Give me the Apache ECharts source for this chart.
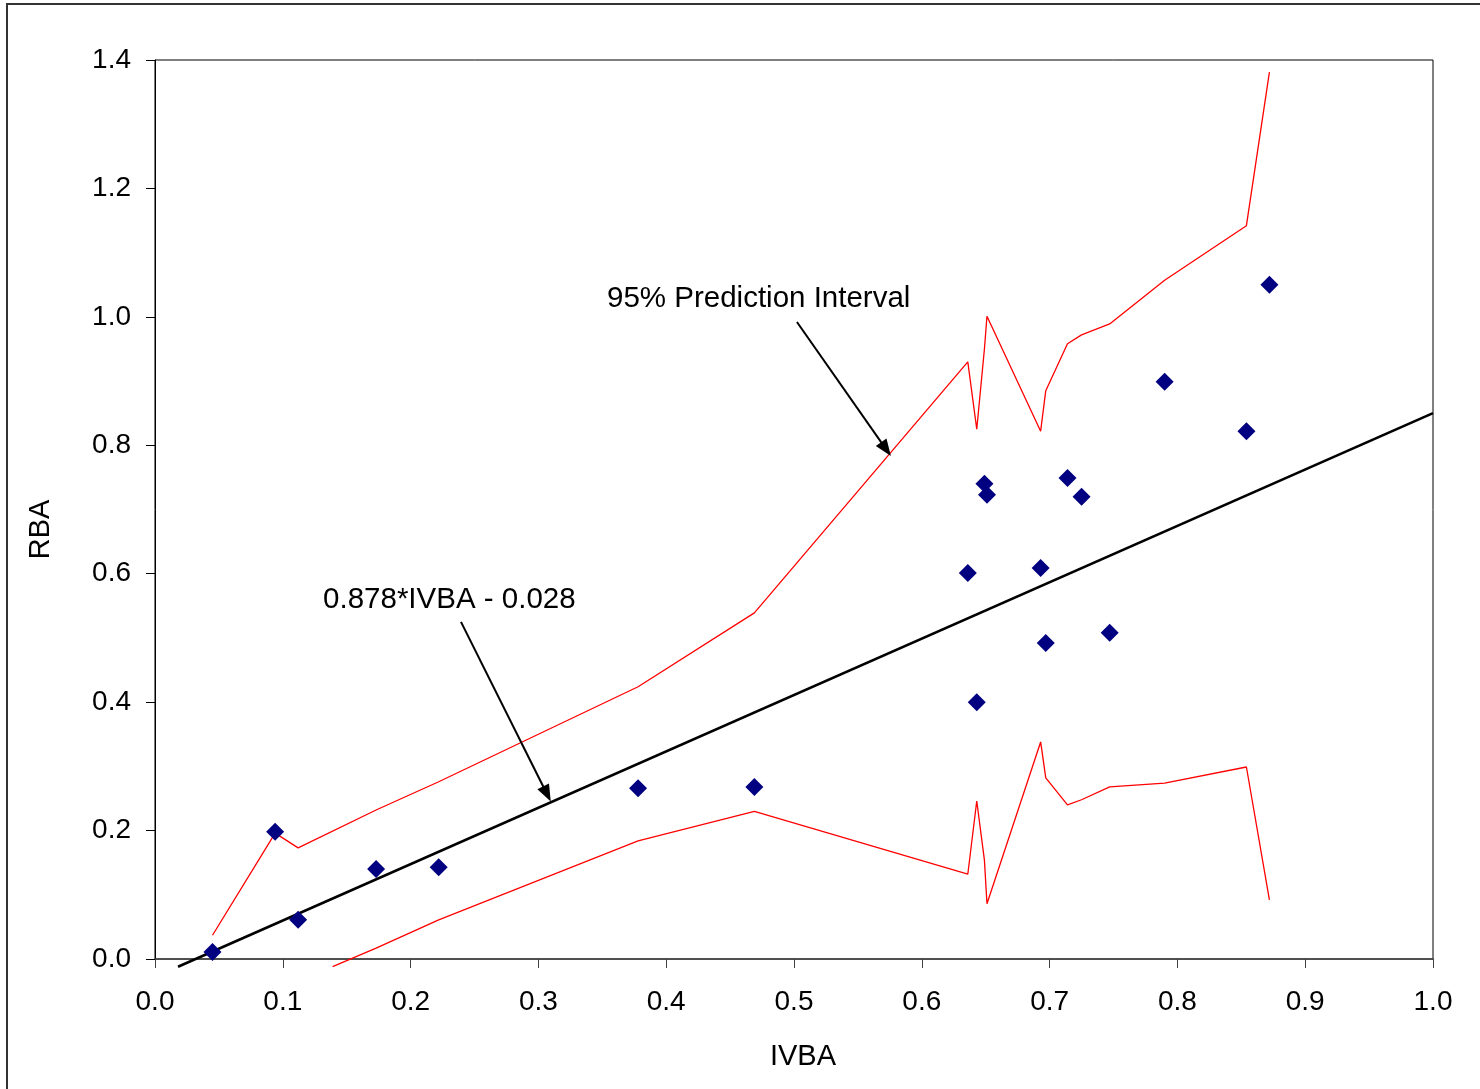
<!DOCTYPE html>
<html>
<head>
<meta charset="utf-8">
<script src="https://cdn.jsdelivr.net/npm/echarts@6/dist/echarts.min.js"></script>
<style>
html,body{margin:0;padding:0;background:#fff;}
#c{width:1480px;height:1089px;}
</style>
</head>
<body>
<div id="c"></div>
<script>
const ivba = [0.045, 0.094, 0.112, 0.173, 0.222, 0.378, 0.469, 0.636, 0.643, 0.649, 0.651, 0.693, 0.697, 0.714, 0.725, 0.747, 0.790, 0.854, 0.872];
const rba  = [0.011, 0.198, 0.061, 0.140, 0.143, 0.266, 0.268, 0.601, 0.400, 0.740, 0.723, 0.609, 0.492, 0.749, 0.720, 0.508, 0.899, 0.822, 1.050];

// Upper 95% prediction limit (at the same IVBA values)
const upperX = [0.045, 0.094, 0.112, 0.173, 0.222, 0.378, 0.469, 0.636, 0.643, 0.649, 0.651, 0.693, 0.697, 0.714, 0.725, 0.747, 0.790, 0.854, 0.872];
const upperY = [0.037, 0.196, 0.173, 0.232, 0.276, 0.424, 0.539, 0.930, 0.825, 0.950, 1.001, 0.822, 0.885, 0.958, 0.972, 0.989, 1.057, 1.142, 1.381];

// Lower 95% prediction limit (visible part, starting where it emerges below the x axis)
const lowerX = [0.139, 0.173, 0.222, 0.378, 0.469, 0.636, 0.643, 0.649, 0.651, 0.693, 0.697, 0.714, 0.725, 0.747, 0.790, 0.854, 0.872];
const lowerY = [-0.012, 0.017, 0.061, 0.184, 0.230, 0.132, 0.246, 0.154, 0.086, 0.338, 0.282, 0.240, 0.248, 0.268, 0.274, 0.299, 0.092];

// Fitted line end points: 0.878*IVBA - 0.028
const fitX = [0.018, 1.0];
const fitY = [-0.012, 0.850];

// Axis ticks
const xTicks = [0.0, 0.1, 0.2, 0.3, 0.4, 0.5, 0.6, 0.7, 0.8, 0.9, 1.0];
const yTicks = [0.0, 0.2, 0.4, 0.6, 0.8, 1.0, 1.2, 1.4];

// Annotations: [text, textAnchorX, textAnchorY, arrowStartX, arrowStartY, arrowEndX, arrowEndY]
const annPI  = ['95% Prediction Interval', 0.3537, 1.028, 0.5023, 0.992, 0.572, 0.794];
const annFit = ['0.878*IVBA - 0.028',      0.1315, 0.560, 0.2394, 0.525, 0.3067, 0.257];

const FONT = "'Liberation Sans', Arial, sans-serif";
const zip = (a, b) => a.map((v, i) => [v, b[i]]);

const chart = echarts.init(document.getElementById('c'), null, {renderer: 'canvas'});

const arrowLine = (a) => [{coord: [a[3], a[4]]}, {coord: [a[5], a[6]]}];

chart.setOption({
  backgroundColor: '#ffffff',
  animation: false,
  grid: {left: 155, top: 60, right: 47, bottom: 130, show: true, borderColor: '#000', borderWidth: 1, backgroundColor: 'transparent'},
  xAxis: {
    type: 'value', min: xTicks[0], max: xTicks[xTicks.length - 1], interval: 0.1,
    name: 'IVBA', nameLocation: 'middle', nameGap: 83,
    nameTextStyle: {fontFamily: FONT, fontSize: 29, color: '#000', padding: [0, 0, 0, 18]},
    axisLine: {onZero: false, lineStyle: {color: '#404040', width: 1.5}},
    axisTick: {show: true, length: 9, inside: false, lineStyle: {color: '#404040', width: 1}},
    axisLabel: {fontFamily: FONT, fontSize: 28, color: '#000', margin: 29, formatter: v => v.toFixed(1)},
    splitLine: {show: false}
  },
  yAxis: {
    type: 'value', min: yTicks[0], max: yTicks[yTicks.length - 1], interval: 0.2,
    name: 'RBA', nameLocation: 'middle', nameGap: 100, nameRotate: 90,
    nameTextStyle: {fontFamily: FONT, fontSize: 29, color: '#000', padding: [0, 40, 0, 0]},
    axisLine: {onZero: false, lineStyle: {color: '#000', width: 1}},
    axisTick: {show: true, length: 9, inside: false, lineStyle: {color: '#000', width: 1}},
    axisLabel: {fontFamily: FONT, fontSize: 28, color: '#000', margin: 24, formatter: v => v.toFixed(1)},
    splitLine: {show: false}
  },
  series: [
    {
      name: 'Upper PI', type: 'line', data: zip(upperX, upperY), showSymbol: false, symbol: 'none',
      lineStyle: {color: '#ff0000', width: 1.3}, clip: false, z: 2
    },
    {
      name: 'Lower PI', type: 'line', data: zip(lowerX, lowerY), showSymbol: false, symbol: 'none',
      lineStyle: {color: '#ff0000', width: 1.3}, clip: false, z: 2
    },
    {
      name: 'Fit', type: 'line', data: zip(fitX, fitY), showSymbol: false, symbol: 'none',
      lineStyle: {color: '#000', width: 2.6}, clip: false, z: 3,
      markLine: {
        silent: true, animation: false,
        symbol: ['none', 'triangle'], symbolSize: [13, 17],
        label: {show: false},
        lineStyle: {color: '#000', width: 2, type: 'solid'},
        data: [arrowLine(annPI), arrowLine(annFit)]
      }
    },
    {
      name: 'Data', type: 'scatter', data: zip(ivba, rba), symbol: 'diamond', symbolSize: 18,
      itemStyle: {color: '#000080', opacity: 1}, z: 5
    }
  ]
});

// Text annotations and outer frame
const p1 = chart.convertToPixel({gridIndex: 0}, [annPI[1], annPI[2]]);
const p2 = chart.convertToPixel({gridIndex: 0}, [annFit[1], annFit[2]]);
chart.setOption({
  graphic: [
    {type: 'rect', shape: {x: 7, y: 4, width: 1500, height: 1110}, style: {fill: 'none', stroke: '#333', lineWidth: 2}, silent: true, z: 0},
    {type: 'text', x: p1[0], y: p1[1], style: {text: annPI[0], font: '29.5px ' + FONT, fill: '#000', textAlign: 'left', textVerticalAlign: 'middle'}, z: 10},
    {type: 'text', x: p2[0], y: p2[1], style: {text: annFit[0], font: '29.5px ' + FONT, fill: '#000', textAlign: 'left', textVerticalAlign: 'middle'}, z: 10}
  ]
});
</script>
</body>
</html>
